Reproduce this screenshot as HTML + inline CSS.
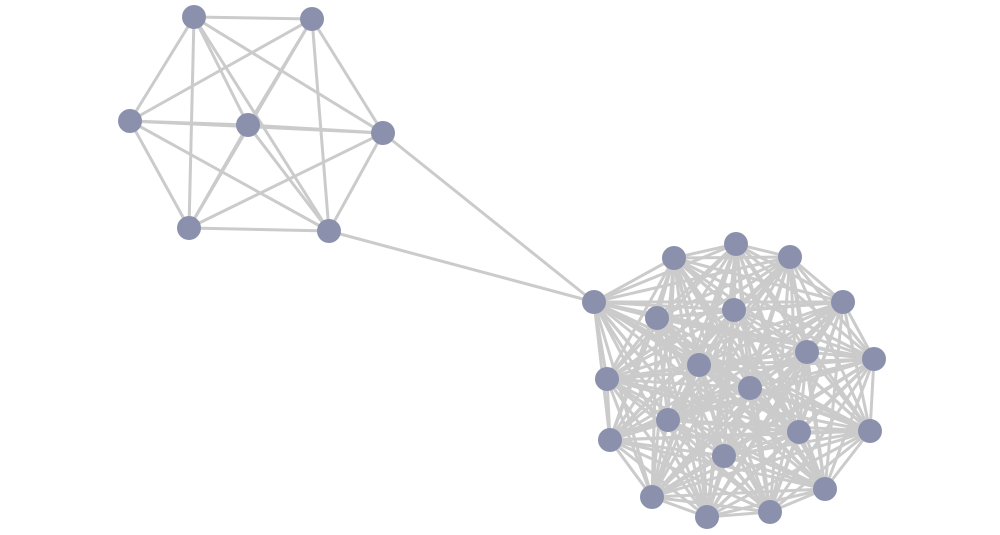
<!DOCTYPE html>
<html><head><meta charset="utf-8">
<style>html,body{margin:0;padding:0;background:#fff;}svg{display:block}</style>
</head><body>
<svg id="s" width="1000" height="535" xmlns="http://www.w3.org/2000/svg"></svg>
<script>
var L=[[194,17],[312,19],[130,121],[248,125],[383,133],[189,228],[329,231]];
var R=[[674,258],[736,244],[790,257],[843,302],[874,359],[870,431],[825,489],[770,512],[707,517],[652,497],[610,440],[607,379],[594,302],[657,318],[734,310],[807,352],[699,365],[750,388],[668,420],[799,432],[724,456]];
var s=document.getElementById('s'),h='';
function ln(a,b){h+='<line x1="'+a[0]+'" y1="'+a[1]+'" x2="'+b[0]+'" y2="'+b[1]+'" stroke="#cbcbcb" stroke-width="3"/>';}
function clique(g){for(var i=0;i<g.length;i++)for(var j=i+1;j<g.length;j++)ln(g[i],g[j]);}
clique(L);clique(R);
ln(L[4],R[12]);ln(L[6],R[12]);
L.concat(R).forEach(function(p){h+='<circle cx="'+p[0]+'" cy="'+p[1]+'" r="12" fill="#8b91ad"/>';});
s.innerHTML=h;
</script>
</body></html>
